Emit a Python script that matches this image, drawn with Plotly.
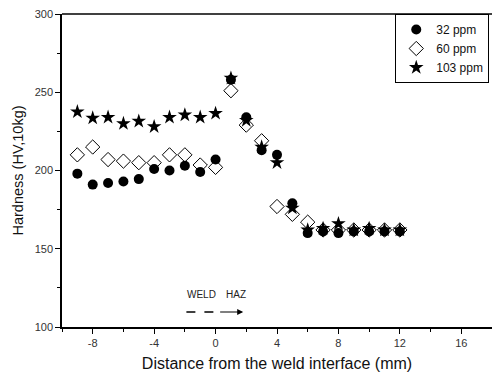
import plotly.graph_objects as go

x_vals = [-9, -8, -7, -6, -5, -4, -3, -2, -1, 0, 1, 2, 3, 4, 5, 6, 7, 8, 9, 10, 11, 12]
ppm32 = [198, 191, 192, 193, 194.5, 201, 200, 203, 199, 207, 258, 234, 213, 210, 179, 160, 161, 160, 161, 161, 161, 161]
ppm60 = [210, 215, 207, 206, 205, 205, 210, 210, 203.5, 202, 251, 229, 219, 177, 172, 167, 162, 162, 162, 162, 162, 162]
ppm103 = [237.5, 233.5, 234, 230, 231.5, 228, 234, 235.5, 234, 236.5, 259, 232, 215, 205, 176, 162, 163, 166, 162, 163, 162, 162]

series_names = ["32 ppm", "60 ppm", "103 ppm"]

x_ticks = [-8, -4, 0, 4, 8, 12, 16]
y_ticks = [100, 150, 200, 250, 300]

font = "Liberation Sans, Arial, sans-serif"

fig = go.Figure()
fig.add_trace(go.Scatter(x=x_vals, y=ppm32, mode="markers", name=series_names[0],
                         marker=dict(symbol="circle", size=10, color="black")))
fig.add_trace(go.Scatter(x=x_vals, y=ppm60, mode="markers", name=series_names[1],
                         marker=dict(symbol="diamond-open", size=11, color="black",
                                     line=dict(width=1, color="black"))))
fig.add_trace(go.Scatter(x=x_vals, y=ppm103, mode="markers", name=series_names[2],
                         marker=dict(symbol="star", size=11, color="black")))

# WELD / HAZ annotation
fig.add_shape(type="line", x0=-1.9, x1=-0.1, y0=109.6, y1=109.6,
              line=dict(color="black", width=1.5, dash="dash"))
fig.add_annotation(x=1.8, y=109.6, ax=0.2, ay=109.6, xref="x", yref="y",
                   axref="x", ayref="y", text="", showarrow=True,
                   arrowhead=2, arrowsize=1, arrowwidth=1.2, arrowcolor="black")
fig.add_annotation(x=-0.9, y=121, text="WELD", showarrow=False,
                   font=dict(family=font, size=10, color="#222"))
fig.add_annotation(x=1.35, y=121, text="HAZ", showarrow=False,
                   font=dict(family=font, size=10, color="#222"))

fig.update_layout(
    width=492, height=382,
    margin=dict(l=62, r=0, t=14, b=55),
    paper_bgcolor="white", plot_bgcolor="white",
    font=dict(family=font, size=11, color="#333"),
    legend=dict(x=0.775, y=1.0, xanchor="left", yanchor="top",
                bordercolor="black", borderwidth=1, bgcolor="white",
                font=dict(family=font, size=12, color="#111"),
                tracegroupgap=0),
    showlegend=True,
)
fig.update_xaxes(range=[-10, 18], tickvals=x_ticks, ticktext=[str(v) for v in x_ticks],
                 ticks="outside", ticklen=5, tickcolor="black", showgrid=False,
                 zeroline=False, showline=True, linecolor="black", linewidth=1.5,
                 mirror=False,
                 minor=dict(tickvals=[-10, -6, -2, 2, 6, 10, 14], ticks="outside",
                            ticklen=3, tickcolor="black"),
                 title=dict(text="Distance from the weld interface (mm)",
                            font=dict(family=font, size=16, color="#111"), standoff=10))
fig.update_yaxes(range=[100, 300], tickvals=y_ticks, ticktext=[str(v) for v in y_ticks],
                 ticks="outside", ticklen=5, tickcolor="black", showgrid=False,
                 zeroline=False, showline=True, linecolor="black", linewidth=1.5,
                 minor=dict(tickvals=[125, 175, 225, 275], ticks="outside",
                            ticklen=3, tickcolor="black"),
                 title=dict(text="Hardness (HV,10kg)",
                            font=dict(family=font, size=14.5, color="#111"), standoff=8))
# top frame line
fig.add_shape(type="line", xref="paper", yref="paper", x0=0, x1=1, y0=1, y1=1,
              line=dict(color="black", width=1.5))

fig.write_html("out.html")
